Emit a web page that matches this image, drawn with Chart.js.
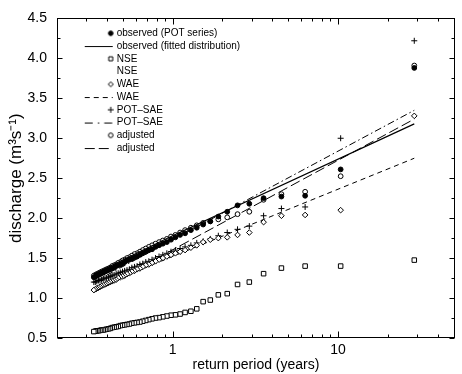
<!DOCTYPE html>
<html>
<head>
<meta charset="utf-8">
<script src="https://cdn.jsdelivr.net/npm/chart.js@4.4.0/dist/chart.umd.min.js"></script>
<style>
  html, body { margin: 0; padding: 0; background: #fff; }
  #wrap { width: 462px; height: 374px; }
</style>
</head>
<body>
<div id="wrap"><canvas id="chartDischarge"></canvas></div>
<script>
// return period (years) of each ranked POT event, rank 1..49
const returnPeriods = [28.93, 10.38, 6.33, 4.55, 3.55, 2.91, 2.47, 2.14, 1.89, 1.69,
  1.53, 1.40, 1.29, 1.19, 1.11, 1.04, 0.978, 0.923, 0.873, 0.828,
  0.788, 0.751, 0.718, 0.688, 0.660, 0.634, 0.610, 0.588, 0.567, 0.548,
  0.530, 0.513, 0.498, 0.483, 0.469, 0.456, 0.443, 0.431, 0.420, 0.410,
  0.399, 0.390, 0.381, 0.372, 0.364, 0.356, 0.348, 0.341, 0.334];

// discharge (m3/s) per rank
const observedPot = [3.88, 2.61, 2.28, 2.27, 2.25, 2.18, 2.16, 2.08, 2.02, 1.96,
  1.92, 1.88, 1.85, 1.81, 1.79, 1.76, 1.73, 1.70, 1.68, 1.66,
  1.64, 1.61, 1.60, 1.58, 1.56, 1.54, 1.52, 1.51, 1.49, 1.48,
  1.47, 1.45, 1.43, 1.42, 1.41, 1.40, 1.38, 1.37, 1.36, 1.35,
  1.34, 1.33, 1.32, 1.31, 1.30, 1.29, 1.28, 1.27, 1.26];
const nse = [1.475, 1.40, 1.40, 1.375, 1.305, 1.20, 1.17, 1.055, 1.04, 0.975,
  0.955, 0.865, 0.835, 0.82, 0.80, 0.79, 0.785, 0.775, 0.765, 0.755,
  0.75, 0.74, 0.73, 0.72, 0.71, 0.70, 0.695, 0.69, 0.685, 0.675,
  0.67, 0.665, 0.66, 0.655, 0.645, 0.64, 0.635, 0.63, 0.62, 0.615,
  0.61, 0.605, 0.60, 0.60, 0.595, 0.59, 0.59, 0.585, 0.58];
const wae = [3.28, 2.10, 2.04, 2.03, 1.95, 1.82, 1.79, 1.76, 1.75, 1.73,
  1.70, 1.66, 1.63, 1.60, 1.58, 1.56, 1.54, 1.52, 1.50, 1.48,
  1.46, 1.44, 1.42, 1.41, 1.39, 1.37, 1.36, 1.34, 1.33, 1.31,
  1.30, 1.28, 1.27, 1.26, 1.25, 1.23, 1.22, 1.21, 1.20, 1.19,
  1.18, 1.17, 1.16, 1.15, 1.14, 1.13, 1.12, 1.11, 1.10];
const potSae = [4.22, 3.00, 2.14, 2.12, 2.03, 1.90, 1.86, 1.82, 1.78, 1.74,
  1.71, 1.69, 1.66, 1.64, 1.62, 1.60, 1.58, 1.56, 1.54, 1.52,
  1.50, 1.48, 1.46, 1.45, 1.43, 1.42, 1.40, 1.39, 1.38, 1.36,
  1.35, 1.34, 1.33, 1.32, 1.31, 1.30, 1.29, 1.28, 1.27, 1.26,
  1.25, 1.25, 1.24, 1.23, 1.22, 1.22, 1.21, 1.20, 1.20];
const adjusted = [3.91, 2.525, 2.33, 2.30, 2.23, 2.08, 2.05, 2.01, 1.985, 1.96,
  1.94, 1.91, 1.88, 1.85, 1.82, 1.79, 1.77, 1.74, 1.72, 1.70,
  1.68, 1.66, 1.64, 1.62, 1.60, 1.58, 1.56, 1.55, 1.53, 1.51,
  1.50, 1.48, 1.47, 1.45, 1.44, 1.42, 1.41, 1.40, 1.38, 1.37,
  1.36, 1.35, 1.34, 1.33, 1.32, 1.31, 1.30, 1.29, 1.28];

// fitted distributions (return period, discharge)
const fitObservedT = [0.334, 1, 28.93];
const fitObservedQ = [1.30, 1.78, 3.18];
const fitWaeT = [0.334, 28.93];
const fitWaeQ = [1.12, 2.75];
const fitPotSaeT = [0.334, 28.93];
const fitPotSaeQ = [1.20, 3.35];
const fitAdjustedT = [0.334, 28.93];
const fitAdjustedQ = [1.07, 3.24];

// axis ticks
const xMajorTicks = [1, 10];
const xMinorTicks = [0.2, 0.3, 0.4, 0.5, 0.6, 0.7, 0.8, 0.9, 2, 3, 4, 5, 6, 7, 8, 9, 20, 30, 40, 50];
const yMajorTicks = [0.5, 1.0, 1.5, 2.0, 2.5, 3.0, 3.5, 4.0, 4.5];
const yMinorTicks = [0.75, 1.25, 1.75, 2.25, 2.75, 3.25, 3.75, 4.25];

function pairs(xs, ys) {
  return xs.map((x, i) => ({ x: x, y: ys[i] }));
}

// small icons for the legend (line sample + marker)
function legendIcon(dash, marker, filled) {
  const c = document.createElement('canvas');
  c.width = 60; c.height = 8;
  const g = c.getContext('2d');
  g.strokeStyle = '#000';
  g.fillStyle = '#000';
  g.lineWidth = 1;
  if (dash) {
    g.setLineDash(dash);
    g.beginPath();
    g.moveTo(29, 4.5);
    g.lineTo(57, 4.5);
    g.stroke();
    g.setLineDash([]);
  }
  const mx = 55, my = 4;
  g.beginPath();
  if (marker === 'circle') {
    g.arc(mx, my, 2.3, 0, Math.PI * 2);
    if (filled) g.fill();
    g.stroke();
  } else if (marker === 'rect') {
    g.rect(mx - 2, my - 2, 4, 4);
    g.stroke();
  } else if (marker === 'rectRot') {
    g.moveTo(mx - 2.5, my); g.lineTo(mx, my - 2.5); g.lineTo(mx + 2.5, my); g.lineTo(mx, my + 2.5);
    g.closePath();
    g.stroke();
  } else if (marker === 'cross') {
    g.moveTo(mx - 3, my); g.lineTo(mx + 3, my);
    g.moveTo(mx, my - 3); g.lineTo(mx, my + 3);
    g.stroke();
  }
  return c;
}

// frame and inward tick marks on all four sides
const frameTicks = {
  id: 'frameTicks',
  afterDraw(chart) {
    const { ctx, chartArea: a, scales } = chart;
    const x = scales.x, y = scales.y;
    ctx.save();
    ctx.strokeStyle = '#000';
    ctx.lineWidth = 1;
    const L = Math.round(a.left) + 0.5, R = Math.round(a.right) - 0.5;
    const T = Math.round(a.top) + 0.5, B = Math.round(a.bottom) - 0.5;
    ctx.strokeRect(L, T, R - L, B - T);
    ctx.beginPath();
    const xt = (v, len) => {
      const px = Math.round(x.getPixelForValue(v)) + 0.5;
      ctx.moveTo(px, B); ctx.lineTo(px, B - len);
      ctx.moveTo(px, T); ctx.lineTo(px, T + len);
    };
    const yt = (v, len) => {
      const py = Math.round(y.getPixelForValue(v)) + 0.5;
      ctx.moveTo(L, py); ctx.lineTo(L + len, py);
      ctx.moveTo(R, py); ctx.lineTo(R - len, py);
    };
    xMajorTicks.forEach(v => xt(v, 6));
    xMinorTicks.forEach(v => xt(v, 3));
    yMajorTicks.forEach(v => yt(v, 5));
    yMinorTicks.forEach(v => yt(v, 3));
    ctx.stroke();
    ctx.restore();
  }
};

const ctx = document.getElementById('chartDischarge');

const chart = new Chart(ctx, {
  type: 'scatter',
  data: {
    datasets: [
      { label: 'observed (POT series)', data: pairs(returnPeriods, observedPot),
        pointStyle: 'circle', pointRadius: 2.4, borderColor: '#000', backgroundColor: '#000', borderWidth: 1,
        icon: legendIcon(null, 'circle', true) },
      { label: 'observed (fitted distribution)', data: pairs(fitObservedT, fitObservedQ), type: 'line',
        showLine: true, pointRadius: 0, borderColor: '#000', borderWidth: 1.2, fill: false,
        icon: legendIcon([], null) },
      { label: 'NSE', data: pairs(returnPeriods, nse),
        pointStyle: 'rect', pointRadius: 3.2, borderColor: '#000', backgroundColor: '#fff', borderWidth: 1,
        icon: legendIcon(null, 'rect') },
      { label: 'NSE', data: [], type: 'line', showLine: true, pointRadius: 0, borderWidth: 0,
        borderColor: 'rgba(0,0,0,0)', icon: legendIcon(null, null) },
      { label: 'WAE', data: pairs(returnPeriods, wae),
        pointStyle: 'rectRot', pointRadius: 2.8, borderColor: '#000', backgroundColor: '#fff', borderWidth: 1,
        icon: legendIcon(null, 'rectRot') },
      { label: 'WAE', data: pairs(fitWaeT, fitWaeQ), type: 'line', showLine: true, pointRadius: 0,
        borderColor: '#000', borderWidth: 1, borderDash: [5, 4], fill: false,
        icon: legendIcon([5, 4], null) },
      { label: 'POT–SAE', data: pairs(returnPeriods, potSae),
        pointStyle: 'cross', pointRadius: 3, borderColor: '#000', borderWidth: 1,
        icon: legendIcon(null, 'cross') },
      { label: 'POT–SAE', data: pairs(fitPotSaeT, fitPotSaeQ), type: 'line', showLine: true, pointRadius: 0,
        borderColor: '#000', borderWidth: 1, borderDash: [7, 3, 1.5, 3], fill: false,
        icon: legendIcon([8, 5, 1.5, 5], null) },
      { label: 'adjusted', data: pairs(returnPeriods, adjusted),
        pointStyle: 'circle', pointRadius: 2.4, borderColor: '#000', backgroundColor: '#fff', borderWidth: 1,
        icon: legendIcon(null, 'circle', false) },
      { label: 'adjusted', data: pairs(fitAdjustedT, fitAdjustedQ), type: 'line', showLine: true, pointRadius: 0,
        borderColor: '#000', borderWidth: 1, borderDash: [10, 4], fill: false,
        icon: legendIcon([10, 4], null) }
    ]
  },
  options: {
    responsive: true,
    maintainAspectRatio: false,
    animation: false,
    devicePixelRatio: 1,
    layout: { padding: { top: 11, right: 7, left: 0, bottom: 0 } },
    scales: {
      x: {
        type: 'logarithmic',
        min: 0.2,
        max: 51,
        afterBuildTicks: (scale) => { scale.ticks = xMajorTicks.map(v => ({ value: v })); },
        afterFit: (scale) => { scale.height = 36; },
        grid: { display: false, drawTicks: false },
        border: { display: false },
        ticks: {
          autoSkip: false, maxRotation: 0, padding: 4, color: '#000',
          font: { family: 'Liberation Sans', size: 14 },
          callback: (v) => String(v)
        },
        title: {
          display: true, text: 'return period (years)', color: '#000',
          font: { family: 'Liberation Sans', size: 14 }, padding: { top: 0, bottom: 0 }
        }
      },
      y: {
        type: 'linear',
        min: 0.5,
        max: 4.5,
        afterBuildTicks: (scale) => { scale.ticks = yMajorTicks.map(v => ({ value: v })); },
        afterFit: (scale) => { scale.width = 57; },
        grid: { display: false, drawTicks: false },
        border: { display: false },
        ticks: {
          padding: 10, color: '#000',
          font: { family: 'Liberation Sans', size: 14 },
          callback: (v) => Number(v).toFixed(1)
        },
        title: {
          display: true, text: 'discharge (m³s⁻¹)', color: '#000',
          font: { family: 'Liberation Sans', size: 17 }, padding: { top: 6, bottom: 0 }
        }
      }
    },
    plugins: {
      tooltip: { enabled: false },
      legend: {
        position: 'chartArea',
        align: 'start',
        // the chartArea legend box starts at the canvas top, this pushes the rows down
        title: { display: true, text: ' ', padding: { top: 11, bottom: 0 }, font: { size: 12, lineHeight: 1.21 } },
        labels: {
          usePointStyle: true,
          pointStyleWidth: 52,
          padding: 2.75,
          color: '#000',
          font: { family: 'Liberation Sans', size: 10 },
          generateLabels: (chart) => chart.data.datasets.map((ds, i) => ({
            text: ds.label,
            pointStyle: ds.icon,
            datasetIndex: i,
            hidden: false,
            lineWidth: 1,
            strokeStyle: '#000',
            fillStyle: '#000',
            fontColor: '#000'
          }))
        }
      }
    }
  },
  plugins: [frameTicks]
});
</script>
</body>
</html>
